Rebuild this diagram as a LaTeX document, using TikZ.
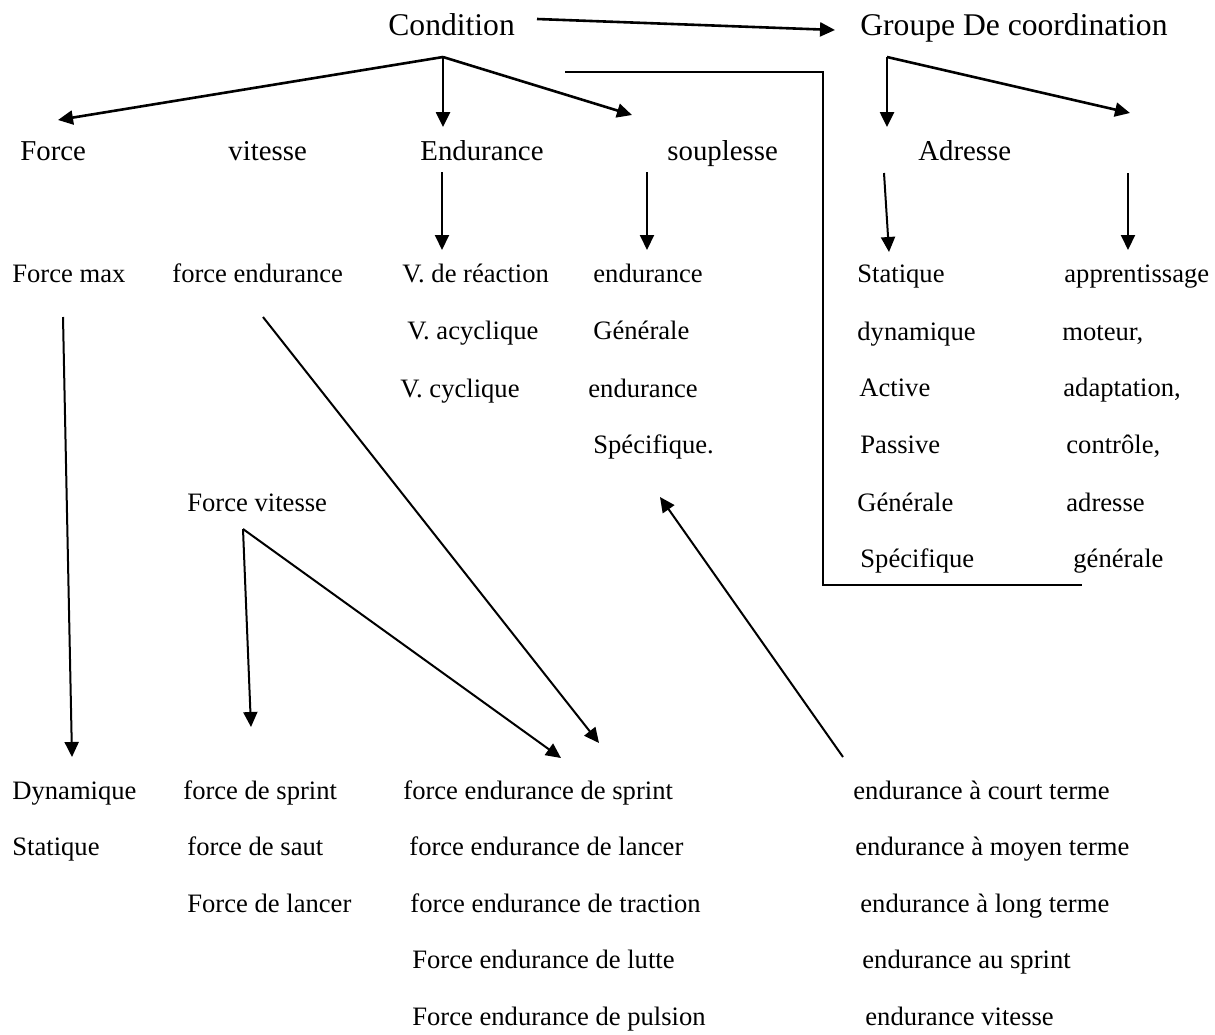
\documentclass[tikz,border=0pt]{standalone}
\usepackage{fontspec}
\setmainfont{Liberation Serif}
\usetikzlibrary{arrows.meta}
\begin{document}
\begin{tikzpicture}[x=0.5pt,y=-0.5pt,
  lbl/.style={anchor=base west,inner sep=0pt,font=\fontsize{13.3}{16}\selectfont},
  mid/.style={lbl,font=\fontsize{14.4}{17}\selectfont},
  head/.style={lbl,font=\fontsize{15.8}{19}\selectfont},
  arr/.style={line width=1pt,-{Triangle[length=7.5pt,width=7pt]}},
  bold arr/.style={arr,line width=1.3pt},
  frame/.style={line width=0.6pt}]
\useasboundingbox (0,0) rectangle (1215,1034);

% top level
\node[head] (cond) at (388,35) {Condition};
\node[head] (coord) at (860,35) {Groupe De coordination};

% second level
\node[mid] (force) at (20,160) {Force};
\node[mid] (vit) at (228,160) {vitesse};
\node[mid] (endu) at (420,160) {Endurance};
\node[mid] (soup) at (667,160) {souplesse};
\node[mid] (adr) at (918,160) {Adresse};

% third level, left half
\node[lbl] (fmax) at (12,282) {Force max};
\node[lbl] (fend) at (172,282) {force endurance};
\node[lbl] (vrea) at (402,282) {V. de réaction};
\node[lbl] (vacy) at (407,339) {V. acyclique};
\node[lbl] (vcyc) at (400,397) {V. cyclique};
\node[lbl] (sen1) at (593,282) {endurance};
\node[lbl] (sgen) at (593,339) {Générale};
\node[lbl] (sen2) at (588,397) {endurance};
\node[lbl] (sspe) at (593,453) {Spécifique.};
\node[lbl] (fvit) at (187,511) {Force vitesse};

% third level, coordination
\node[lbl] (asta) at (857,282) {Statique};
\node[lbl] (adyn) at (857,340) {dynamique};
\node[lbl] (aact) at (859,396) {Active};
\node[lbl] (apas) at (860,453) {Passive};
\node[lbl] (agen) at (857,511) {Générale};
\node[lbl] (aspe) at (860,567) {Spécifique};
\node[lbl] (bapp) at (1064,282) {apprentissage};
\node[lbl] (bmot) at (1062,340) {moteur,};
\node[lbl] (bada) at (1063,396) {adaptation,};
\node[lbl] (bcon) at (1066,453) {contrôle,};
\node[lbl] (badr) at (1066,511) {adresse};
\node[lbl] (bgen) at (1073,567) {générale};

% bottom block
\node[lbl] (dyn) at (12,799) {Dynamique};
\node[lbl] (sta) at (12,855) {Statique};
\node[lbl] (fspr) at (183,799) {force de sprint};
\node[lbl] (fsau) at (187,855) {force de saut};
\node[lbl] (flan) at (187,912) {Force de lancer};
\node[lbl] (fes) at (403,799) {force endurance de sprint};
\node[lbl] (fel) at (409,855) {force endurance de lancer};
\node[lbl] (fet) at (410,912) {force endurance de traction};
\node[lbl] (felu) at (412,968) {Force endurance de lutte};
\node[lbl] (fep) at (412,1025) {Force endurance de pulsion};
\node[lbl] (ect) at (853,799) {endurance à court terme};
\node[lbl] (emt) at (855,855) {endurance à moyen terme};
\node[lbl] (elt) at (860,912) {endurance à long terme};
\node[lbl] (eas) at (862,968) {endurance au sprint};
\node[lbl] (evi) at (865,1025) {endurance vitesse};

% connector end points
\coordinate (condR) at (537,19);
\coordinate (coordL) at (835,30);
\coordinate (hubC) at (443,57);
\coordinate (tForce) at (58,120);
\coordinate (tEndu) at (443,127);
\coordinate (tSoup) at (632,115);
\coordinate (hubG) at (887,57);
\coordinate (tAdr) at (887,127);
\coordinate (tRight) at (1130,113);
\coordinate (eA) at (442,172);
\coordinate (eB) at (442,250);
\coordinate (sA) at (647,172);
\coordinate (sB) at (647,250);
\coordinate (aA) at (884,173);
\coordinate (aB) at (889,252);
\coordinate (bA) at (1128,173);
\coordinate (bB) at (1128,250);
\coordinate (fmA) at (63,317);
\coordinate (fmB) at (72,757);
\coordinate (feA) at (263,317);
\coordinate (feB) at (599,743);
\coordinate (hubF) at (243,529);
\coordinate (fvB) at (251,727);
\coordinate (fvC) at (561,758);
\coordinate (ecA) at (843,757);
\coordinate (ecB) at (660,497);

% connectors
\draw[bold arr] (condR) -- (coordL);
\draw[bold arr] (hubC) -- (tForce);
\draw[bold arr] (hubC) -- (tEndu);
\draw[bold arr] (hubC) -- (tSoup);
\draw[bold arr] (hubG) -- (tAdr);
\draw[bold arr] (hubG) -- (tRight);
\draw[arr] (eA) -- (eB);
\draw[arr] (sA) -- (sB);
\draw[arr] (aA) -- (aB);
\draw[arr] (bA) -- (bB);
\draw[arr] (fmA) -- (fmB);
\draw[arr] (feA) -- (feB);
\draw[arr] (hubF) -- (fvB);
\draw[arr] (hubF) -- (fvC);
\draw[arr] (ecA) -- (ecB);

% frame round the coordination block
\coordinate (fr1) at (565,72);
\coordinate (fr2) at (823,72);
\coordinate (fr3) at (823,585);
\coordinate (fr4) at (1082,585);
\draw[frame] (fr1) -- (fr2) -- (fr3) -- (fr4);
\end{tikzpicture}
\end{document}
